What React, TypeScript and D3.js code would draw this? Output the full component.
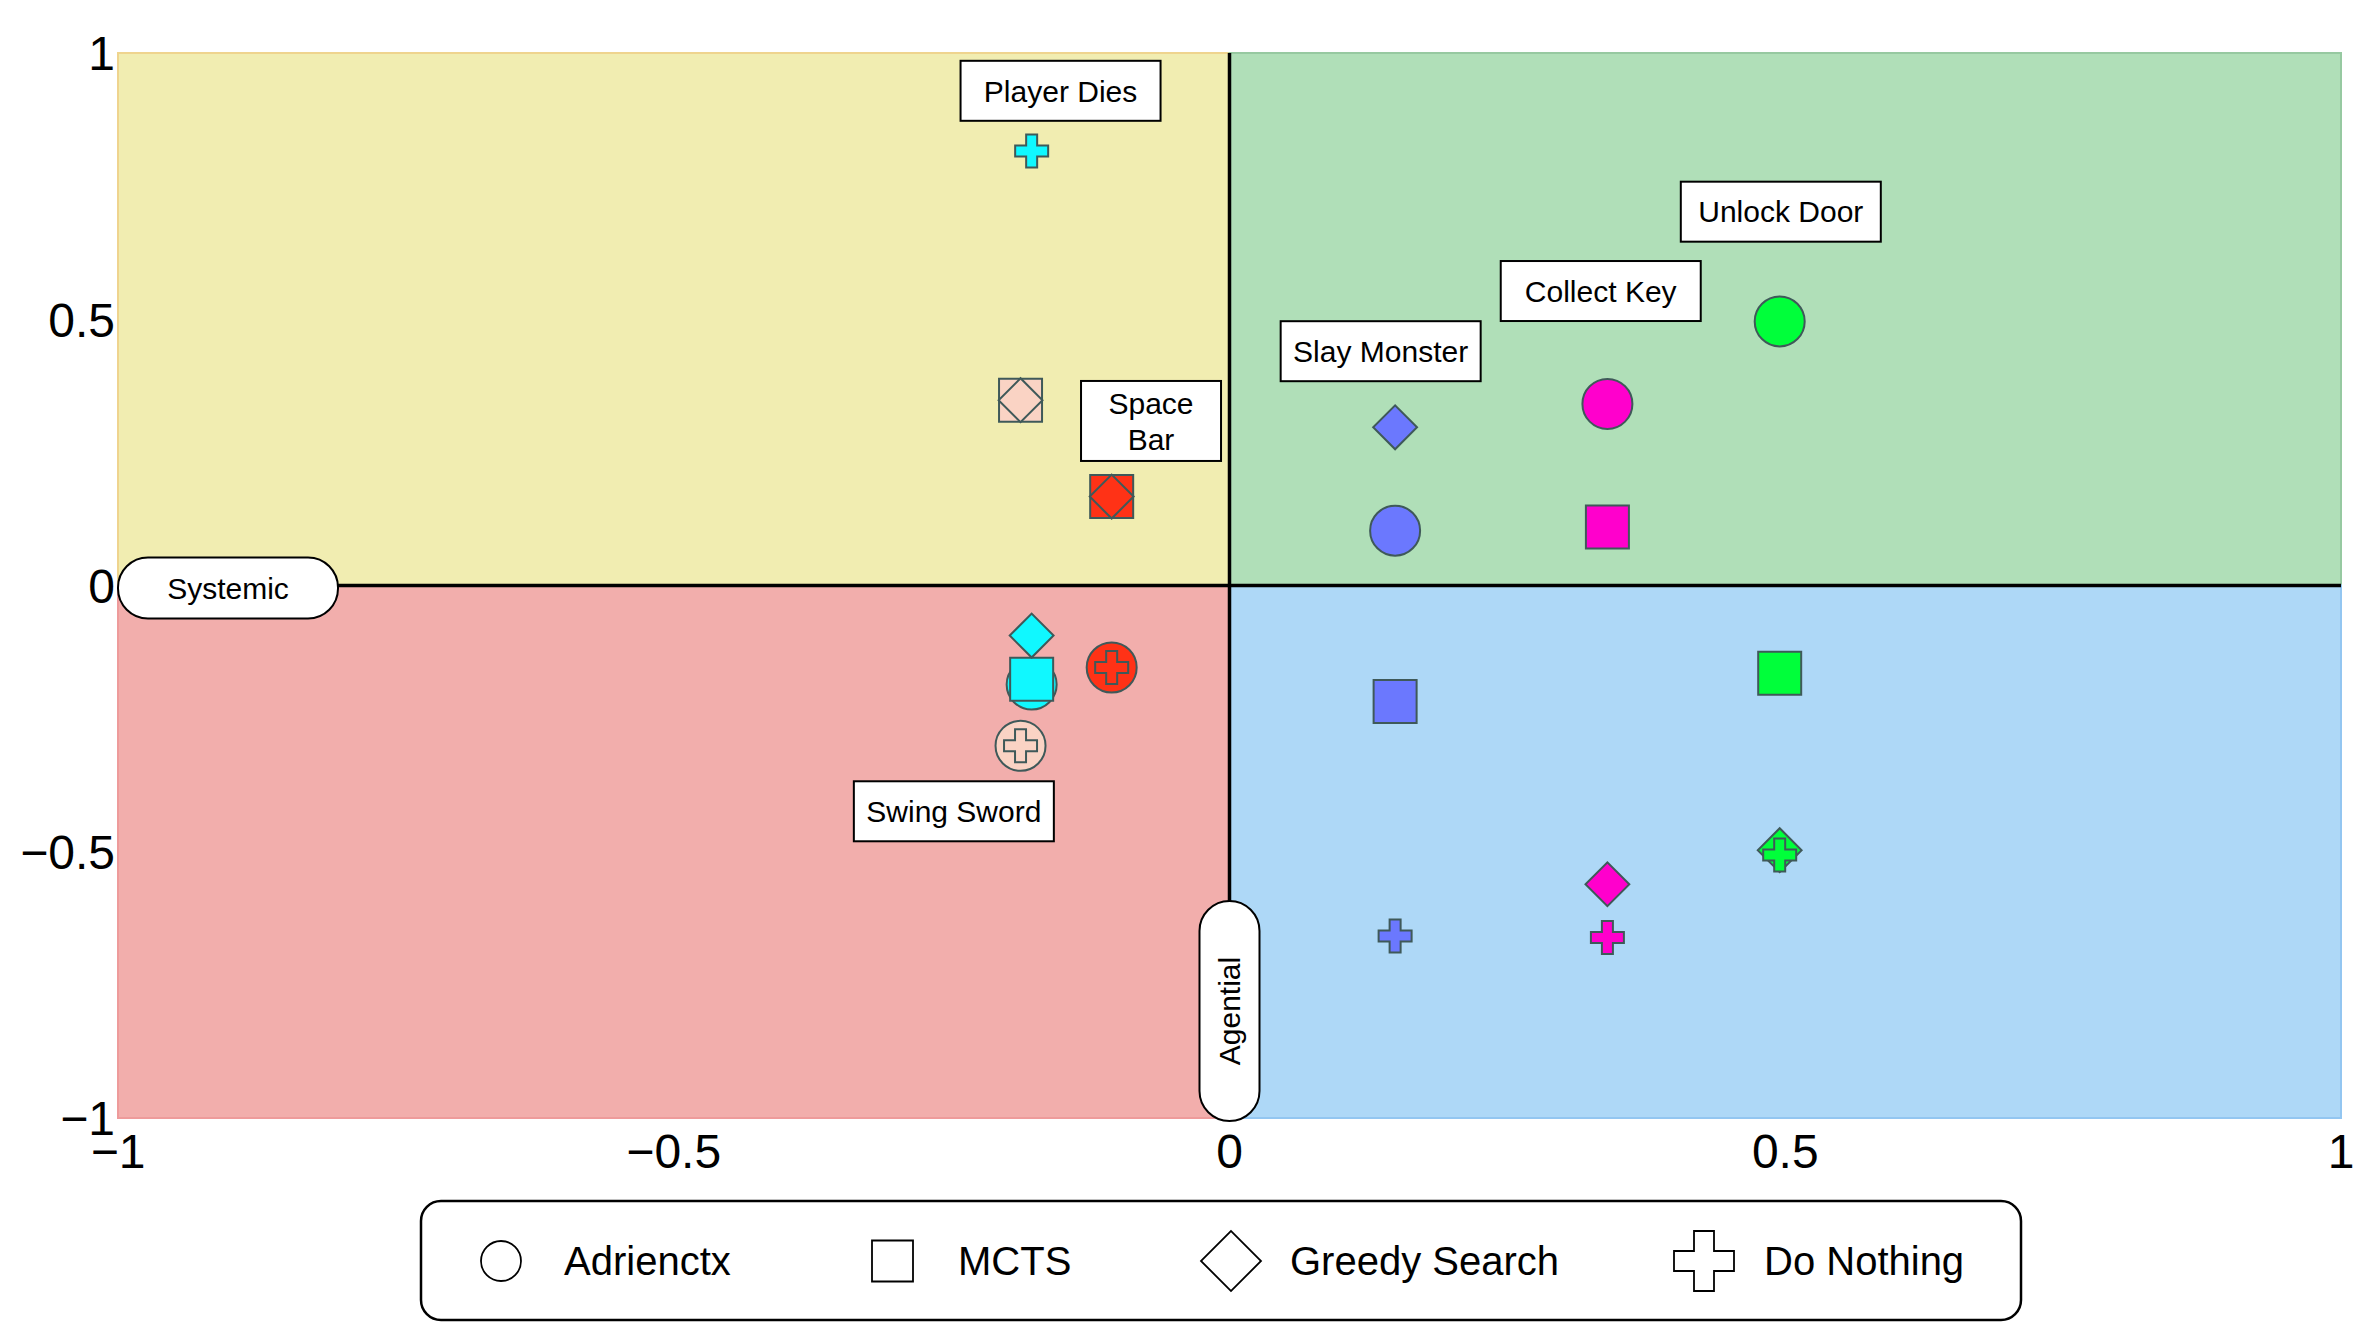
import React from "react";
import * as d3 from "d3";

const agents = ["Adrienctx", "MCTS", "Greedy Search", "Do Nothing"];
const events = ["Player Dies", "Space Bar", "Swing Sword", "Slay Monster", "Collect Key", "Unlock Door"];
const eventX = [-0.178, -0.106, -0.188, 0.149, 0.34, 0.495];
const adrienctxY = [-0.186, -0.154, -0.301, 0.103, 0.341, 0.496];
const mctsY = [-0.176, 0.167, 0.348, -0.218, 0.11, -0.165];
const greedyY = [-0.094, 0.167, 0.348, 0.297, -0.561, -0.497];
const doNothingY = [0.816, -0.154, -0.301, -0.658, -0.661, -0.506];
const eventColors = ["#10F8FF", "#FF3216", "#FAD3C4", "#6B78FE", "#FF00CC", "#00FF3A"];
const labelX = [-0.152, -0.0706, -0.248, 0.136, 0.334, 0.496];
const labelY = [0.929, 0.309, -0.424, 0.44, 0.553, 0.702];
const labelLines = [["Player Dies"], ["Space", "Bar"], ["Swing Sword"], ["Slay Monster"], ["Collect Key"], ["Unlock Door"]];
const tickValues = [-1, -0.5, 0, 0.5, 1];
const quadrantNames = ["Systemic-Positive", "Agential-Positive", "Systemic-Negative", "Agential-Negative"];
const quadrantFill = ["#F1EDB1", "#B0DFB8", "#F2AEAC", "#AED8F7"];
const quadrantStroke = ["#EFD48E", "#97C9A1", "#EE9B9B", "#93C6F1"];
const axisNames = ["Systemic", "Agential"];

const W = 2370;
const H = 1322;
const FONT = "'Liberation Sans', Arial, Helvetica, sans-serif";
const MARK_STROKE = "#3F5959";

const x = d3.scaleLinear().domain([-1, 1]).range([118, 2341]);
const y = d3.scaleLinear().domain([-1, 1]).range([1118, 53]);
const fmt = d3.format("~g");

const circlePath = d3.symbol(d3.symbolCircle, Math.PI * 25 * 25)();
const squarePath = d3.symbol(d3.symbolSquare, 43 * 43)();
const diamondPath = d3.symbol(d3.symbolSquare, 31 * 31)();
const crossPath = d3.symbol(d3.symbolCross, 5 * 11 * 11)();

const legCircle = d3.symbol(d3.symbolCircle, Math.PI * 20 * 20)();
const legSquare = d3.symbol(d3.symbolSquare, 41 * 41)();
const legDiamond = d3.symbol(d3.symbolSquare, 42.4 * 42.4)();
const legCross = d3.symbol(d3.symbolCross, 5 * 20 * 20)();

const agentY = [adrienctxY, mctsY, greedyY, doNothingY];
const agentPaths = [circlePath, squarePath, diamondPath, crossPath];
const agentRot = [0, 0, 45, 0];
const legendPaths = [legCircle, legSquare, legDiamond, legCross];
const legendSymX = [501, 892.5, 1231, 1704];
const legendTextX = [564, 958, 1290, 1764];

export default function App() {
  const quads = [
    { x0: -1, x1: 0, y0: 0, y1: 1 },
    { x0: 0, x1: 1, y0: 0, y1: 1 },
    { x0: -1, x1: 0, y0: -1, y1: 0 },
    { x0: 0, x1: 1, y0: -1, y1: 0 },
  ];
  return (
    <svg
      width={W}
      height={H}
      style={{ position: "absolute", left: 0, top: 0, display: "block", background: "#fff" }}
      fontFamily={FONT}
    >
      {quads.map((q, i) => (
        <rect
          key={quadrantNames[i]}
          x={x(q.x0)}
          y={y(q.y1)}
          width={x(q.x1) - x(q.x0)}
          height={y(q.y0) - y(q.y1)}
          fill={quadrantFill[i]}
          stroke={quadrantStroke[i]}
          strokeWidth={2}
        />
      ))}
      <line x1={x(-1)} x2={x(1)} y1={y(0)} y2={y(0)} stroke="#000" strokeWidth={3.5} />
      <line x1={x(0)} x2={x(0)} y1={y(1)} y2={y(-1)} stroke="#000" strokeWidth={3.5} />

      {agents.map((a, ai) => (
        <g key={a}>
          {events.map((e, ei) => (
            <path
              key={e}
              d={agentPaths[ai] as string}
              transform={`translate(${x(eventX[ei])},${y(agentY[ai][ei])}) rotate(${agentRot[ai]})`}
              fill={eventColors[ei]}
              stroke={MARK_STROKE}
              strokeWidth={2}
            />
          ))}
        </g>
      ))}

      {events.map((e, ei) => {
        const lines = labelLines[ei];
        const h = lines.length > 1 ? 80 : 60;
        const w = lines.length > 1 ? 140 : 200;
        const cx = x(labelX[ei]);
        const cy = y(labelY[ei]);
        return (
          <g key={"lab" + e}>
            <rect x={cx - w / 2} y={cy - h / 2} width={w} height={h} fill="#fff" stroke="#000" strokeWidth={2} />
            {lines.map((l, li) => (
              <text
                key={l}
                x={cx}
                y={cy + (li - (lines.length - 1) / 2) * 36}
                dy="0.36em"
                textAnchor="middle"
                fontSize={30}
                fill="#000"
              >
                {l}
              </text>
            ))}
          </g>
        );
      })}

      <g>
        <rect x={x(-1)} y={y(0) - 28} width={220} height={61} rx={30} fill="#fff" stroke="#000" strokeWidth={2} />
        <text x={x(-1) + 110} y={y(0) + 3} dy="0.36em" textAnchor="middle" fontSize={30}>
          {axisNames[0]}
        </text>
      </g>
      <g>
        <rect x={x(0) - 30} y={y(-1) + 3 - 220} width={60} height={220} rx={30} fill="#fff" stroke="#000" strokeWidth={2} />
        <text
          transform={`translate(${x(0)},${y(-1) + 3 - 110}) rotate(-90)`}
          dy="0.36em"
          textAnchor="middle"
          fontSize={30}
        >
          {axisNames[1]}
        </text>
      </g>

      {tickValues.map((t) => (
        <text key={"y" + t} x={115} y={y(t)} dy="0.36em" textAnchor="end" fontSize={48} fill="#000">
          {fmt(t)}
        </text>
      ))}
      {tickValues.map((t) => (
        <text key={"x" + t} x={x(t)} y={1168} textAnchor="middle" fontSize={48} fill="#000">
          {fmt(t)}
        </text>
      ))}

      <rect x={421} y={1201} width={1600} height={119} rx={20} fill="#fff" stroke="#000" strokeWidth={2.5} />
      {agents.map((a, ai) => (
        <g key={"leg" + a}>
          <path
            d={legendPaths[ai] as string}
            transform={`translate(${legendSymX[ai]},1261) rotate(${agentRot[ai]})`}
            fill="#fff"
            stroke="#000"
            strokeWidth={1.8}
          />
          <text x={legendTextX[ai]} y={1261} dy="0.36em" fontSize={40} fill="#000">
            {a}
          </text>
        </g>
      ))}
    </svg>
  );
}
